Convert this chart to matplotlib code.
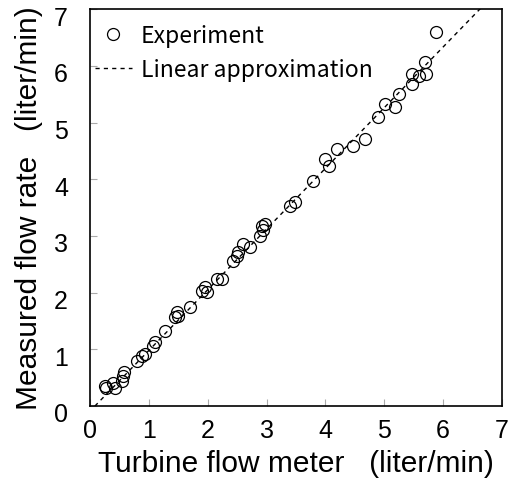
import numpy as np
import matplotlib
matplotlib.use("Agg")
import matplotlib.pyplot as plt
import matplotlib.transforms as mtransforms

# Experiment: turbine flow meter reading vs measured flow rate (liter/min)
turbine = [0.25, 0.27, 0.39, 0.42, 0.54, 0.56, 0.58, 0.80, 0.88, 0.93,
           1.07, 1.10, 1.27, 1.44, 1.48, 1.49, 1.70, 1.90, 1.95, 1.99,
           2.16, 2.24, 2.43, 2.50, 2.51, 2.60, 2.72, 2.89, 2.92, 2.94,
           2.97, 3.40, 3.48, 3.79, 3.99, 4.07, 4.19, 4.47, 4.67, 4.89,
           5.01, 5.18, 5.26, 5.48, 5.48, 5.60, 5.72, 5.69, 5.89]
measured = [0.35, 0.32, 0.41, 0.32, 0.44, 0.53, 0.60, 0.79, 0.88, 0.92,
            1.06, 1.13, 1.32, 1.57, 1.66, 1.59, 1.75, 2.03, 2.10, 2.01,
            2.24, 2.24, 2.56, 2.65, 2.72, 2.86, 2.80, 3.00, 3.17, 3.10,
            3.21, 3.53, 3.60, 3.97, 4.36, 4.23, 4.53, 4.59, 4.71, 5.10,
            5.33, 5.27, 5.50, 5.68, 5.86, 5.82, 5.86, 6.07, 6.60]

# Linear approximation
slope = 1.07
intercept = -0.09
fit_x = [0.08, 7.0]

plt.rcParams['font.family'] = ['Liberation Sans', 'DejaVu Sans']

fig = plt.figure(figsize=(5.12, 4.85), dpi=100)
ax = fig.add_axes([0.176, 0.161, 0.804, 0.818])

ax.plot(turbine, measured, 'o', markersize=8.6, markerfacecolor='none',
        markeredgecolor='black', markeredgewidth=0.9, label='Experiment')
fx = np.array(fit_x)
ax.plot(fx, slope * fx + intercept, color='black', linewidth=1.0,
        dashes=(3, 3), label='Linear approximation')

ax.set_xlim(0, 7)
ax.set_ylim(0, 7)
ax.set_xticks(range(8))
ax.set_yticks(range(8))
ax.tick_params(direction='in', length=5, width=0.8, color='#aaaaaa',
               labelsize=18, labelcolor='black')
ax.tick_params(axis='x', pad=9)
ax.tick_params(axis='y', pad=16)
for lab in ax.get_yticklabels():
    lab.set_transform(lab.get_transform() +
                      mtransforms.ScaledTranslation(0, -6 / 100, fig.dpi_scale_trans))
for s in ax.spines.values():
    s.set_linewidth(1.2)

ax.set_xlabel('Turbine flow meter   (liter/min)', fontsize=21.5, labelpad=5)
ax.set_ylabel('Measured flow rate   (liter/min)', fontsize=21.5, labelpad=8)

leg = ax.legend(loc='upper left', frameon=False, handlelength=1.6,
                handletextpad=0.4, bbox_to_anchor=(-0.01, 0.985),
                borderaxespad=0.0, labelspacing=0.45,
                prop={'family': ['Noto Sans CJK JP', 'DejaVu Sans'], 'size': 16.5})

fig.savefig('out.png', dpi=100)
